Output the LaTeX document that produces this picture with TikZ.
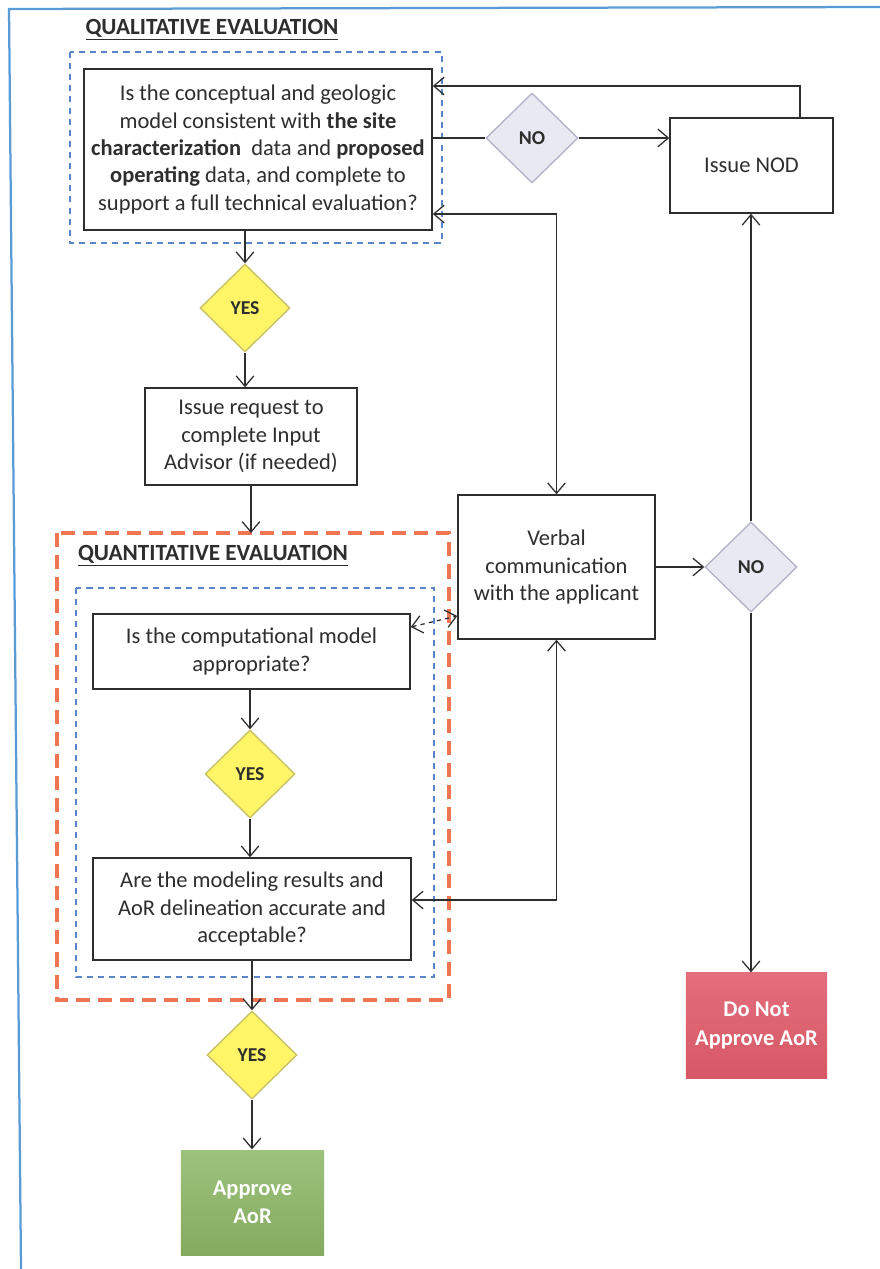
\documentclass[tikz,border=0pt]{standalone}
\usepackage{fontspec}
\setmainfont{Carlito}
\usepackage{xcolor}
\usepackage{tikz}
\usetikzlibrary{arrows.meta, shapes.geometric}

\definecolor{FrameBlue}{HTML}{5B9BD5}
\definecolor{DashBlue}{HTML}{5A86C8}
\definecolor{DashRed}{HTML}{F07552}
\definecolor{YesFill}{HTML}{FFF566}
\definecolor{YesDraw}{HTML}{C9C267}
\definecolor{NoFill}{HTML}{E9E9F3}
\definecolor{NoDraw}{HTML}{B4B4CA}
\definecolor{InkGray}{HTML}{2E2E2E}
\definecolor{OkTop}{HTML}{9DC27C}
\definecolor{OkBot}{HTML}{84AA60}
\definecolor{BadTop}{HTML}{E46E7C}
\definecolor{BadBot}{HTML}{D65866}

\begin{document}
\begin{tikzpicture}[x=0.025cm, y=-0.025cm, color=InkGray,
>={Straight Barb[length=2.6mm, width=4.4mm]},
box/.style={rectangle, draw=InkGray, fill=white, line width=1pt, align=center,
  text=InkGray, font=\fontsize{16}{19.5}\selectfont, inner sep=2pt},
%
yes/.style={diamond, draw=YesDraw, fill=YesFill, line width=1pt, inner sep=0pt,
  minimum width=2.25cm, minimum height=2.2cm, font=\fontsize{14}{16}\selectfont\bfseries},
%
no/.style={diamond, draw=NoDraw, fill=NoFill, line width=1pt, inner sep=0pt,
  minimum width=2.3cm, minimum height=2.25cm, font=\fontsize{14}{16}\selectfont\bfseries},
%
outcome/.style={rectangle, draw=none, align=center, text=white,
  font=\fontsize{16}{20}\selectfont\bfseries},
%
title/.style={text=InkGray, font=\fontsize{16.5}{19}\selectfont\bfseries},
bluedash/.style={draw=DashBlue, line width=.8pt, dash pattern=on 4.3pt off 3.6pt},
reddash/.style={draw=DashRed, line width=3pt, dash pattern=on 10pt off 5.7pt}]

\tikzset{every path/.style={line width=.9pt}}

\useasboundingbox (0,0) rectangle (880,1269);
\draw [FrameBlue, line width=1.6pt] (21,1269) -- (9,9) -- (880,7);

%%%%%%%%%%%%%%%%%%%%%%%%%%%%%%
\node [title] (qualTitle) at (212,30) {\underline{QUALITATIVE EVALUATION}};
\draw [bluedash] (70,52) rectangle (442,243);
\node [box, minimum width=8.7cm, minimum height=4.025cm] (concept) at (258,149.5)
  {Is the conceptual and geologic\\ model consistent with \textbf{the site}\\
   \textbf{characterization}\ \ data and \textbf{proposed}\\
   \textbf{operating} data, and complete to\\ support a full technical evaluation?};
\node [no] (noA) at (532,138) {NO};
\node [box, minimum width=4.075cm, minimum height=2.375cm] (nod) at (751.5,165.5) {Issue NOD};
\node [yes] (yesA) at (245,308) {YES};
\node [box, minimum width=5.3cm, minimum height=2.425cm] (request) at (251,436.5)
  {Issue request to\\ complete Input\\ Advisor (if needed)};

%%%%%%%%%%%%%%%%%%%%%%%%%%%%%%
\draw [reddash] (57,533) rectangle (449,1000);
\coordinate (redTop) at (57,533);
\node [title] (quantTitle) at (213,556) {\underline{QUANTITATIVE EVALUATION}};
\draw [bluedash] (76,588) rectangle (434,977);
\node [box, minimum width=7.925cm, minimum height=1.875cm] (model) at (251.5,651.5)
  {Is the computational model\\ appropriate?};
\node [yes] (yesB) at (250,774) {YES};
\node [box, minimum width=7.95cm, minimum height=2.55cm] (results) at (252,909)
  {Are the modeling results and\\ AoR delineation accurate and\\ acceptable?};
\node [yes] (yesC) at (252,1055) {YES};
\node [outcome, minimum width=3.575cm, minimum height=2.625cm,
  top color=OkTop, bottom color=OkBot] (approve) at (252.5,1202.5) {Approve\\ AoR};

%%%%%%%%%%%%%%%%%%%%%%%%%%%%%%
\node [box, minimum width=4.925cm, minimum height=3.6cm] (verbal) at (556.5,567)
  {Verbal\\ communication\\ with the applicant};
\node [no] (noB) at (751,567) {NO};
\node [outcome, minimum width=3.525cm, minimum height=2.625cm,
  top color=BadTop, bottom color=BadBot] (reject) at (756.5,1025.5) {Do Not\\ Approve AoR};

%%%%%%%%%%%%%%%%%%%%%%%%%%%%%%
\coordinate (loopA) at (800,86);
\coordinate (loopB) at (556,214);
\coordinate (loopC) at (556,900);

\draw (concept.east |- noA) -- (noA.west);
\draw [->] (noA.east) -- (noA.east -| nod.west);
\draw [->] (nod.north -| loopA) |- (concept.east |- loopA);
\draw [<->] (concept.east |- loopB) -| (verbal.north);
\draw [->] (concept.south -| yesA) -- (yesA.north);
\draw [->] (yesA.south) -- (yesA.south |- request.north);
\draw [->] (request.south) -- (request.south |- redTop);
%%%%%%%%%%%%%%%%%%%%%%%%%%%%%%
\draw [<->, dashed] ([yshift=0.6125cm]model.east) -- ([yshift=-1.225cm]verbal.west);
\draw [->] (verbal.east) -- (noB.west);
\draw [->] (noB.north) -- (noB.north |- nod.south);
\draw [->] (noB.south) -- (noB.south |- reject.north);
%%%%%%%%%%%%%%%%%%%%%%%%%%%%%%
\draw [->] (model.south -| yesB) -- (yesB.north);
\draw [->] (yesB.south) -- (yesB.south |- results.north);
\draw [<->] (results.east |- loopC) -| (verbal.south);
\draw [->] (results.south) -- (yesC.north);
\draw [->] (yesC.south) -- (yesC.south |- approve.north);

\end{tikzpicture}
\end{document}
